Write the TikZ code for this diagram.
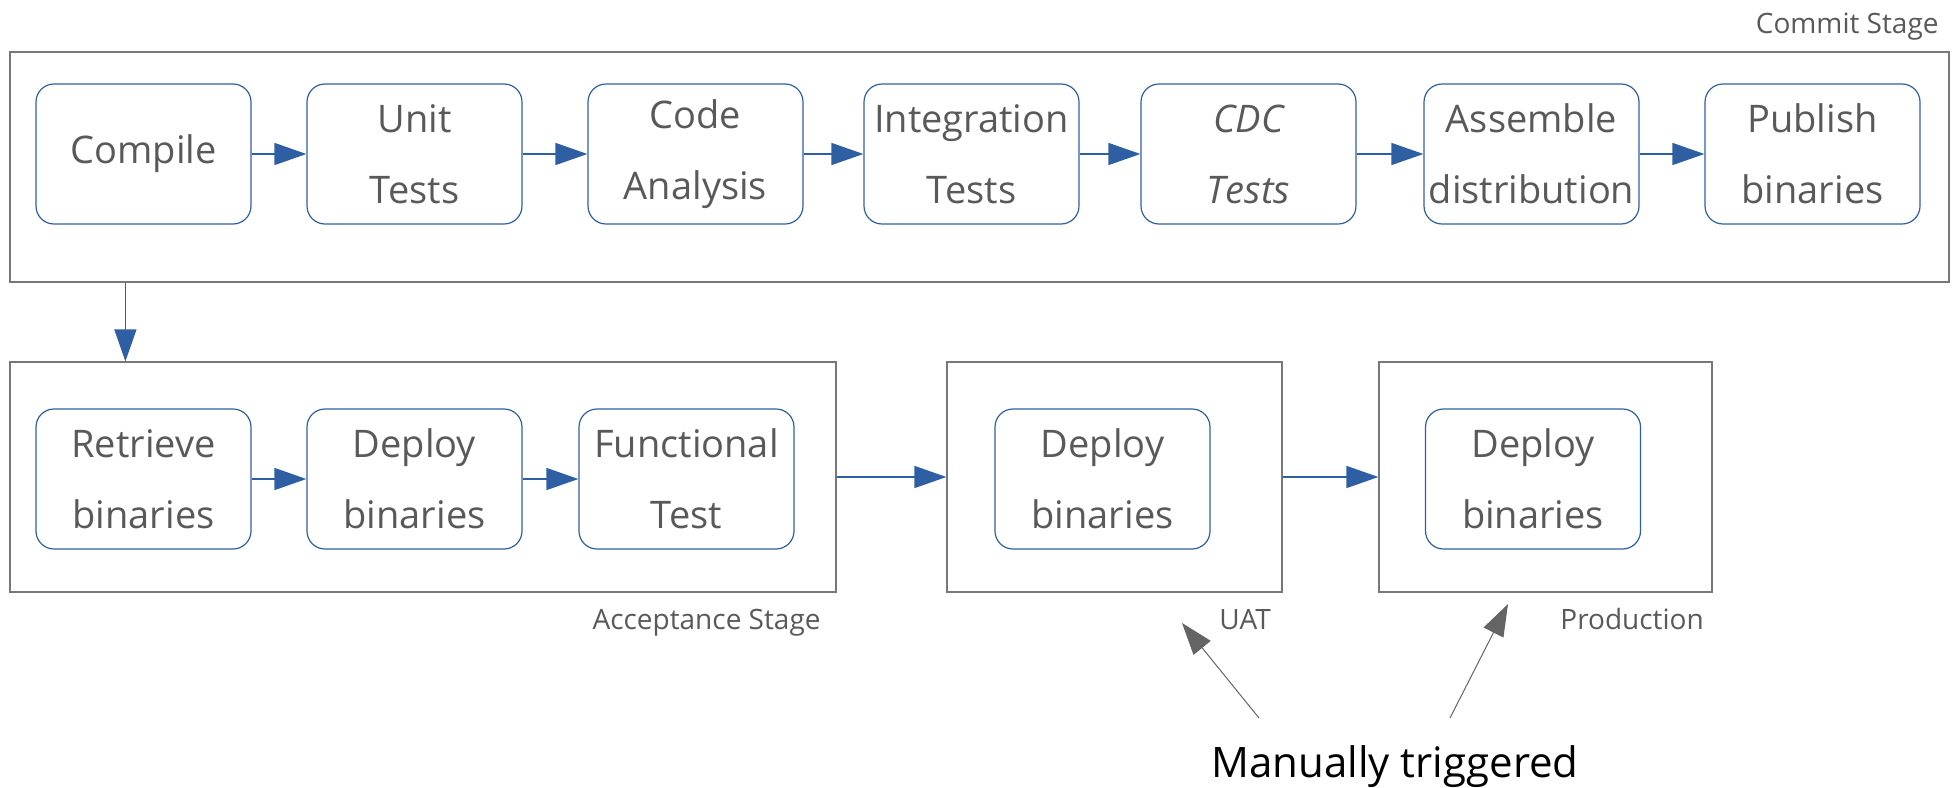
\documentclass[tikz,border=0pt]{standalone}
\usepackage{fontspec}
\setmainfont{Open Sans}
\usetikzlibrary{arrows.meta,positioning}
\definecolor{flowblue}{RGB}{47,95,163}
\definecolor{framegray}{RGB}{120,120,120}
\definecolor{textgray}{RGB}{89,89,89}
\definecolor{notegray}{RGB}{100,100,100}
\tikzset{
  task/.style={draw=flowblue, line width=0.6pt, rounded corners=9pt,
    minimum width=107.5pt, minimum height=70pt, inner sep=0pt,
    align=center, text=textgray, font=\fontsize{19}{35.5}\selectfont},
  stage/.style={draw=framegray, line width=0.6pt, inner sep=0pt},
  stagename/.style={text=textgray, inner sep=0pt, font=\fontsize{14}{16}\selectfont},
  flow/.style={draw=flowblue, line width=0.75pt, -{Triangle[length=16pt,width=11pt]}},
  trigger/.style={draw=notegray, line width=0.5pt, -{Triangle[length=16pt,width=11pt]}}
}

\begin{document}
\begin{tikzpicture}[x=0.5pt,y=-0.5pt]
  \useasboundingbox (0,0) rectangle (1958,787);

  % stage frames
  \node[stage, minimum width=969.5pt, minimum height=115pt] (commit) at (979.5,167) {};
  \node[stage, minimum width=413pt,   minimum height=115pt] (accept) at (423,477) {};
  \node[stage, minimum width=167.5pt, minimum height=115pt] (uat)    at (1114.5,477) {};
  \node[stage, minimum width=166.5pt, minimum height=115pt] (prod)   at (1545.5,477) {};

  \node[stagename, anchor=base east] (commitname) at (1939,33)  {Commit Stage};
  \node[stagename, anchor=base east] (acceptname) at (821,629)  {Acceptance Stage};
  \node[stagename, anchor=base west] (uatname)    at (1219,629) {UAT};
  \node[stagename, anchor=base west] (prodname)   at (1560,629) {Production};

  % commit stage
  \node[task] (compile)  at (143.5,154)  {Compile};
  \node[task] (unit)     at (414.5,154)  {Unit\\Tests};
  \node[task] (analysis) at (695.5,154)  {Code\\Analysis};
  \node[task] (integ)    at (971.5,154)  {Integration\\Tests};
  \node[task] (cdc)      at (1248.5,154) {\itshape CDC\\\itshape Tests};
  \node[task] (assemble) at (1531.5,154) {Assemble\\distribution};
  \node[task] (publish)  at (1812.5,154) {Publish\\binaries};

  % acceptance, uat, production
  \node[task] (retrieve)   at (143.5,479)  {Retrieve\\binaries};
  \node[task] (deploy)     at (414.5,479)  {Deploy\\binaries};
  \node[task] (functional) at (686.5,479)  {Functional\\Test};
  \node[task] (uatdeploy)  at (1102.5,479) {Deploy\\binaries};
  \node[task] (proddeploy) at (1533,479)   {Deploy\\binaries};

  \draw[flow] (compile) -- (unit);
  \draw[flow] (unit) -- (analysis);
  \draw[flow] (analysis) -- (integ);
  \draw[flow] (integ) -- (cdc);
  \draw[flow] (cdc) -- (assemble);
  \draw[flow] (assemble) -- (publish);
  \draw[flow] (retrieve) -- (deploy);
  \draw[flow] (deploy) -- (functional);
  \draw[flow] ([xshift=58pt]commit.south west) -- ([xshift=58pt]accept.north west);
  \draw[flow] (accept) -- (uat);
  \draw[flow] (uat) -- (prod);

  % manual triggers
  \node[anchor=base, inner sep=0pt, font=\fontsize{21}{24}\selectfont] (manual) at (1395,777) {Manually triggered};
  \coordinate (uattail)  at (1259,718);
  \coordinate (uattip)   at (1182,623);
  \coordinate (prodtail) at (1450,718);
  \coordinate (prodtip)  at (1508,604);
  \draw[trigger] (uattail) -- (uattip);
  \draw[trigger] (prodtail) -- (prodtip);
\end{tikzpicture}
\end{document}
